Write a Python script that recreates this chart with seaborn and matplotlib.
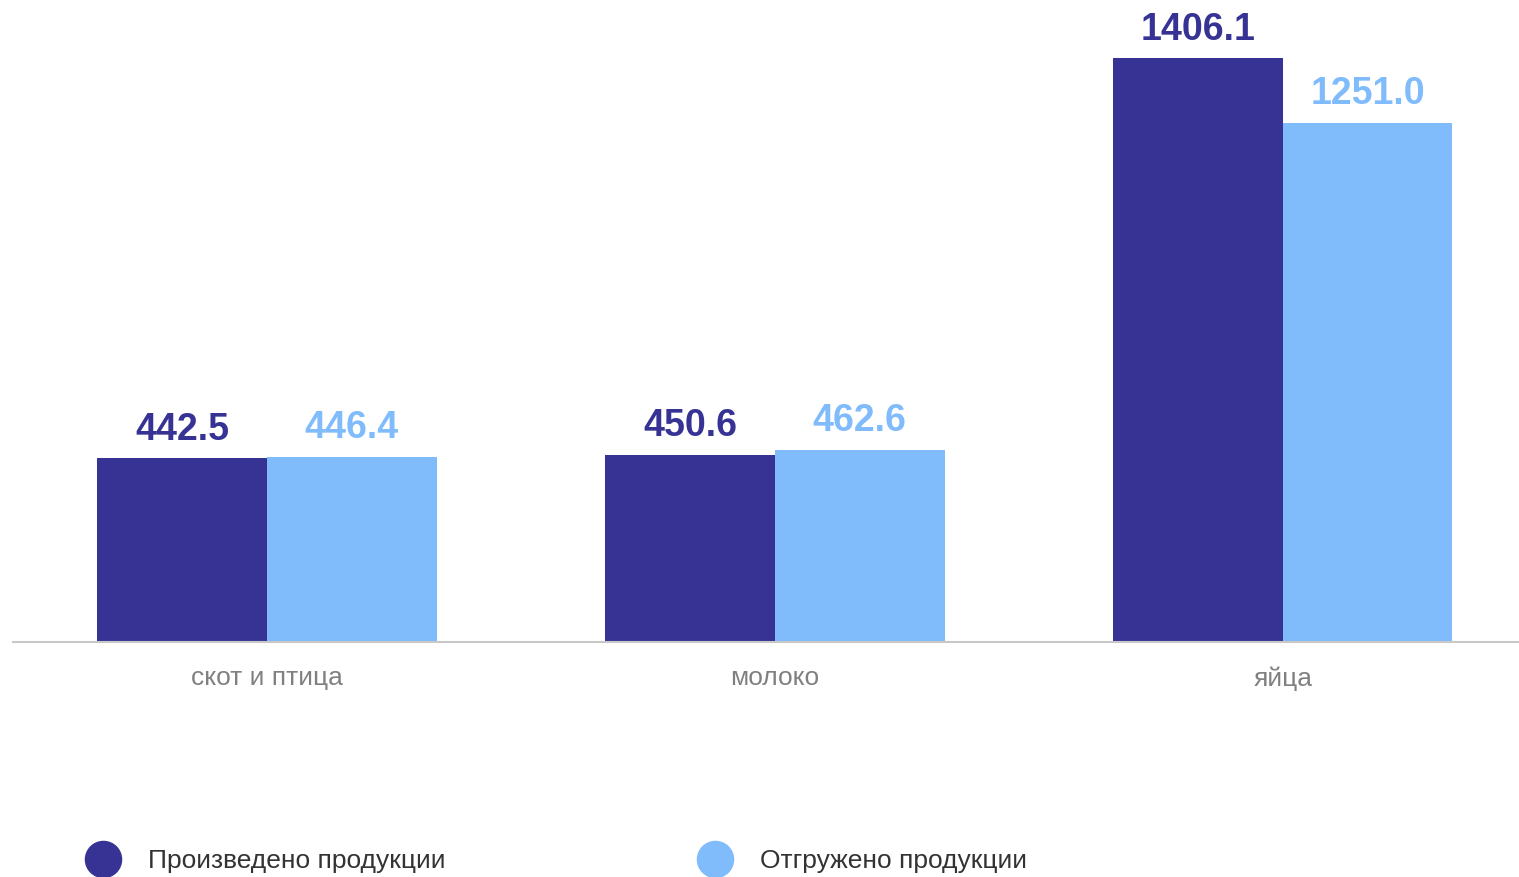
import matplotlib
matplotlib.use("Agg")
import matplotlib.pyplot as plt
from matplotlib.lines import Line2D
import seaborn as sns
import pandas as pd

categories = ["скот и птица", "молоко", "яйца"]
series = ["Произведено продукции", "Отгружено продукции"]
produced = [442.5, 450.6, 1406.1]
shipped = [446.4, 462.6, 1251.0]
colors = ["#373395", "#80bbfc"]

df = pd.DataFrame({
    "category": categories * 2,
    "series": [series[0]] * 3 + [series[1]] * 3,
    "value": produced + shipped,
})

sns.set_style("white")
plt.rcParams["font.family"] = ["Liberation Sans", "DejaVu Sans"]

fig = plt.figure(figsize=(15.19, 8.77), dpi=100)
ax = fig.add_axes([13 / 1519, 1 - 642 / 877, 1 - 13 / 1519, 642 / 877])

sns.barplot(data=df, x="category", y="value", hue="series", palette=colors,
            width=0.668, gap=0, saturation=1, linewidth=0, legend=False, ax=ax)

ax.set_ylim(0, 1546)
ax.set_xlim(-0.5, 2.465)
ax.set_xlabel("")
ax.set_ylabel("")
ax.set_yticks([])
for s in ["top", "left", "right"]:
    ax.spines[s].set_visible(False)
ax.spines["bottom"].set_color("#c8c8c8")
ax.spines["bottom"].set_linewidth(1.5)
ax.tick_params(axis="x", length=0, pad=17.5, labelsize=19, labelcolor="#808080")

for cont, col in zip(ax.containers, colors):
    for bar in cont:
        h = bar.get_height()
        ax.annotate(f"{h:.1f}", (bar.get_x() + bar.get_width() / 2, h),
                    xytext=(0, 7.5), textcoords="offset points",
                    ha="center", va="bottom", fontsize=27, fontweight="bold", color=col)

handles = [Line2D([], [], marker="o", linestyle="", markersize=26, color=c) for c in colors]
fig.legend(handles, series, loc="center left", bbox_to_anchor=(53 / 1519, 1 - 861 / 877),
           ncol=2, frameon=False, fontsize=19, handletextpad=0.7, columnspacing=9.2,
           labelcolor="#333333")

fig.savefig("out.png", dpi=100)
